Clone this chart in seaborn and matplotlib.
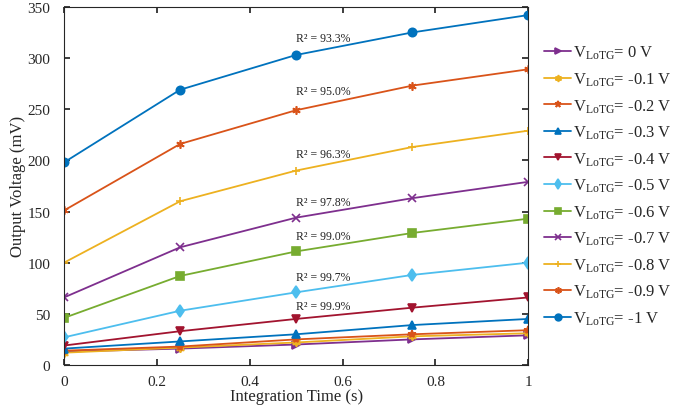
import numpy as np
import pandas as pd
import matplotlib
matplotlib.use("Agg")
import matplotlib.pyplot as plt
import seaborn as sns

sns.set_theme(style="ticks")
plt.rcParams['font.family'] = ['Liberation Serif', 'DejaVu Serif']
plt.rcParams['mathtext.fontset'] = 'custom'
plt.rcParams['mathtext.rm'] = 'Liberation Serif'
plt.rcParams['mathtext.it'] = 'Liberation Serif:italic'

time_s = [0, 0.25, 0.5, 0.75, 1.0]
v_0 = [13, 16, 20, 25, 29]
v_m01 = [12, 17, 22, 28, 31]
v_m02 = [14, 18, 25, 30, 34]
v_m03 = [16, 23, 30, 39, 45]
v_m04 = [19, 33, 45, 56, 66]
v_m05 = [27, 53, 71, 88, 100]
v_m06 = [46, 87, 111, 129, 143]
v_m07 = [66, 115, 144, 163, 179]
v_m08 = [100, 160, 190, 213, 229]
v_m09 = [151, 216, 249, 273, 289]
v_m10 = [198, 269, 303, 325, 342]

gate_labels = ['0 V', '-0.1 V', '-0.2 V', '-0.3 V', '-0.4 V', '-0.5 V',
               '-0.6 V', '-0.7 V', '-0.8 V', '-0.9 V', '-1 V']
series = [v_0, v_m01, v_m02, v_m03, v_m04, v_m05, v_m06, v_m07, v_m08, v_m09, v_m10]

r2_labels = ['R² = 93.3%', 'R² = 95.0%', 'R² = 96.3%', 'R² = 97.8%',
             'R² = 99.0%', 'R² = 99.7%', 'R² = 99.9%']
r2_y = [320, 268, 206, 159, 126, 86, 58]

colors = ['#7E2F8E', '#EDB120', '#D95319', '#0072BD', '#A2142F', '#4DBEEE',
          '#77AC30', '#7E2F8E', '#EDB120', '#D95319', '#0072BD']
marker_list = ['>', (6, 1, 0), '*', '^', 'v', 'd', 's', 'x', '+', (6, 2, 0), 'o']

names = [r'$\mathrm{V_{LoTG}}$= ' + g for g in gate_labels]
rows = []
for name, vals in zip(names, series):
    for t, v in zip(time_s, vals):
        rows.append({'t': t, 'v': v, 'name': name})
df = pd.DataFrame(rows)

fig = plt.figure(figsize=(6.96, 4.14), dpi=100)
ax = fig.add_axes([0.092, 0.116, 0.667, 0.865])

for name, col, mk in zip(names, colors, marker_list):
    sub = df[df['name'] == name]
    sns.lineplot(data=sub, x='t', y='v', color=col, marker=mk,
                 markersize=6, linewidth=1.3, markeredgewidth=1.2,
                 markeredgecolor=col, markerfacecolor=col,
                 label=name, ax=ax)

for lab, y in zip(r2_labels, r2_y):
    ax.text(0.5, y, lab, fontsize=8.5, ha='left', va='center', color='#222222')

ax.set_xlim(0, 1)
ax.set_ylim(0, 350)
ax.set_xticks([0, 0.2, 0.4, 0.6, 0.8, 1])
ax.set_xticklabels(['0', '0.2', '0.4', '0.6', '0.8', '1'])
ax.set_yticks(range(0, 351, 50))
ax.tick_params(direction='in', top=True, right=True, labelsize=11, length=4,
               color='#262626', labelcolor='#262626')
ax.tick_params(axis='x', which='major', pad=7)
ax.tick_params(axis='y', which='major', pad=10)
for s in ax.spines.values():
    s.set_color('#262626')
    s.set_linewidth(0.8)
ax.set_xlabel('Integration Time (s)', fontsize=12, labelpad=0, color='#262626')
ax.set_ylabel('Output Voltage (mV)', fontsize=12, labelpad=1, color='#262626')

ax.legend(loc='upper left', bbox_to_anchor=(1.02, 0.915), frameon=False,
          fontsize=12, handlelength=1.6, handletextpad=0.15, labelspacing=0.55,
          borderaxespad=0, markerscale=0.8)

fig.savefig('out.png', dpi=100)
